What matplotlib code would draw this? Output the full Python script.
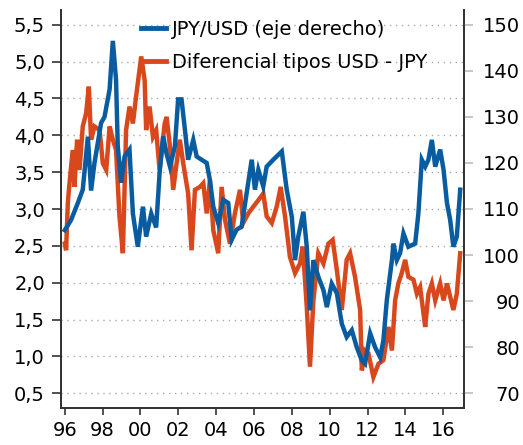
import numpy as np
import matplotlib
matplotlib.use("Agg")
import matplotlib.pyplot as plt
from matplotlib.lines import Line2D

# JPY/USD (right axis)
jpy_t = [1996.00, 1996.33, 1996.69, 1996.95, 1997.22, 1997.39, 1997.57, 1997.92,
         1998.10, 1998.37, 1998.54, 1998.71, 1998.80, 1998.98, 1999.16, 1999.42,
         1999.60, 1999.86, 2000.13, 2000.30, 2000.57, 2000.83, 2001.01, 2001.20,
         2001.38, 2001.56, 2001.82, 2001.99, 2002.17, 2002.35, 2002.52, 2002.79,
         2002.97, 2003.23, 2003.50, 2003.67, 2003.85, 2004.11, 2004.38, 2004.64,
         2004.82, 2005.08, 2005.35, 2005.61, 2005.88, 2006.05, 2006.23, 2006.49,
         2006.67, 2007.02, 2007.47, 2007.73, 2008.00, 2008.17, 2008.34, 2008.61,
         2008.79, 2008.96, 2009.14, 2009.40, 2009.67, 2009.85, 2010.11, 2010.38,
         2010.64, 2010.90, 2011.17, 2011.43, 2011.70, 2011.87, 2012.14, 2012.40,
         2012.67, 2012.84, 2013.02, 2013.29, 2013.37, 2013.55, 2013.72, 2013.90,
         2014.16, 2014.52, 2014.69, 2014.87, 2015.05, 2015.22, 2015.40, 2015.58,
         2015.84, 2016.02, 2016.20, 2016.37, 2016.54, 2016.72, 2016.90]
jpy_v = [105.4, 107.6, 111.3, 114.2, 125.7, 114.0, 120.0, 128.7,
         130.0, 136.0, 146.5, 138.0, 123.6, 115.7, 121.4, 122.9,
         109.0, 101.8, 110.5, 104.0, 109.0, 106.0, 117.8, 125.8,
         122.0, 119.2, 123.6, 133.8, 133.8, 127.2, 120.7, 125.0,
         121.4, 120.7, 120.0, 116.3, 110.5, 106.9, 112.0, 111.3,
         103.3, 105.5, 106.2, 113.4, 120.7, 114.2, 118.5, 114.9,
         119.2, 120.7, 122.5, 114.2, 108.3, 98.9, 104.0, 109.4,
         101.8, 88.0, 98.9, 95.3, 92.4, 88.7, 93.8, 91.7,
         85.1, 82.2, 83.7, 80.0, 77.1, 76.4, 83.0, 80.0,
         77.8, 81.5, 90.2, 98.9, 102.5, 98.9, 100.4, 104.7,
         101.8, 102.5, 109.1, 120.7, 119.2, 120.7, 125.0, 119.2,
         122.9, 118.5, 111.3, 107.6, 101.8, 104.0, 114.2]

# USD - JPY rate differential (left axis)
dif_t = [1996.00, 1996.07, 1996.16, 1996.25, 1996.42, 1996.51, 1996.65, 1996.78,
         1996.95, 1997.13, 1997.27, 1997.39, 1997.57, 1997.84, 1998.01, 1998.19,
         1998.37, 1998.54, 1998.71, 1998.89, 1999.07, 1999.24, 1999.42, 1999.60,
         1999.77, 2000.04, 2000.22, 2000.30, 2000.48, 2000.66, 2000.83, 2001.01,
         2001.28, 2001.38, 2001.56, 2001.73, 2001.91, 2002.08, 2002.26, 2002.52,
         2002.70, 2002.88, 2003.14, 2003.32, 2003.50, 2003.67, 2003.85, 2004.11,
         2004.29, 2004.47, 2004.73, 2004.99, 2005.26, 2005.43, 2005.70, 2005.96,
         2006.23, 2006.49, 2006.67, 2006.94, 2007.20, 2007.41, 2007.64, 2007.90,
         2008.17, 2008.43, 2008.58, 2008.79, 2008.96, 2009.14, 2009.40, 2009.67,
         2009.93, 2010.16, 2010.38, 2010.64, 2010.90, 2011.08, 2011.34, 2011.61,
         2011.70, 2011.87, 2012.05, 2012.31, 2012.58, 2012.84, 2013.11, 2013.29,
         2013.46, 2013.63, 2013.81, 2013.99, 2014.16, 2014.43, 2014.61, 2014.78,
         2014.96, 2015.05, 2015.22, 2015.40, 2015.58, 2015.84, 2016.02, 2016.20,
         2016.37, 2016.54, 2016.72, 2016.90]
dif_v = [2.53, 2.44, 3.08, 3.35, 3.80, 3.30, 3.94, 3.53,
         4.12, 4.30, 4.66, 3.94, 4.12, 4.07, 3.62, 3.53,
         4.12, 3.94, 3.80, 2.90, 2.40, 4.07, 4.39, 4.16,
         4.53, 5.07, 4.75, 4.07, 4.39, 3.98, 4.07, 3.53,
         4.16, 4.25, 3.85, 3.26, 3.62, 3.94, 3.62, 3.21,
         2.44, 3.26, 3.30, 3.35, 2.94, 3.39, 2.71, 2.40,
         3.30, 2.85, 2.53, 2.94, 3.26, 2.81, 2.94, 3.03,
         3.12, 3.21, 2.90, 2.81, 3.03, 3.30, 2.90, 2.35,
         2.13, 2.26, 2.49, 1.67, 0.86, 1.76, 2.40, 2.26,
         2.53, 2.58, 2.17, 1.63, 2.31, 2.40, 2.08, 1.63,
         0.81, 1.08, 1.04, 0.72, 0.90, 0.95, 1.40, 1.08,
         1.76, 1.99, 2.13, 2.31, 2.08, 2.04, 1.85, 1.94,
         1.58, 1.40, 1.85, 1.99, 1.76, 1.99, 1.76, 1.99,
         1.81, 1.63, 1.85, 2.40]

years = list(range(1996, 2017, 2))
year_labels = [str(y)[2:] for y in years]
left_ticks = [0.5, 1.0, 1.5, 2.0, 2.5, 3.0, 3.5, 4.0, 4.5, 5.0, 5.5]
right_ticks = [70, 80, 90, 100, 110, 120, 130, 140, 150]

blue = '#0a5ca0'
orange = '#d9481c'

plt.rcParams['font.family'] = ['DejaVu Sans']
plt.rcParams['font.size'] = 14

fig = plt.figure(figsize=(5.23, 4.45), dpi=100)
ax = fig.add_axes([61/523, 37/445, 403/523, 398/445])
ax2 = ax.twinx()

ax.plot(dif_t, dif_v, color=orange, lw=3.2, solid_joinstyle='miter')
ax2.plot(jpy_t, jpy_v, color=blue, lw=3.2, solid_joinstyle='miter')

ax.set_xlim(1995.8, 2017.1)
ax.set_ylim(0.3, 5.7)
ax2.set_ylim(66.8, 153.2)

ax.set_xticks(years)
ax.set_xticklabels(year_labels)
ax.set_yticks(left_ticks)
ax.set_yticklabels([('%.1f' % v).replace('.', ',') for v in left_ticks])
ax2.set_yticks(right_ticks)

for a in (ax, ax2):
    a.spines['top'].set_visible(False)
    for s in ('left', 'right', 'bottom'):
        a.spines[s].set_color('#333333')
        a.spines[s].set_linewidth(1.3)

ax.tick_params(axis='x', direction='out', length=5, width=1.2, color='#333333', pad=4)
ax.tick_params(axis='y', direction='out', length=6.5, width=1.2, color='#333333', pad=5)
ax2.tick_params(axis='y', direction='out', length=6.5, width=1.2, color='#bbbbbb', pad=34)
for lab in ax2.get_yticklabels():
    lab.set_horizontalalignment('right')

ax.grid(axis='y', color='#aaaaaa', lw=1.0, linestyle=(0, (1, 3.3)))
ax.set_axisbelow(True)

handles = [Line2D([], [], color=blue, lw=3.5), Line2D([], [], color=orange, lw=3.5)]
ax2.legend(handles, ['JPY/USD (eje derecho)', 'Diferencial tipos USD - JPY'],
           loc='upper left', bbox_to_anchor=(141/523, 1 - 20/445), bbox_transform=fig.transFigure,
           frameon=False, borderpad=0, borderaxespad=0, handlelength=1.3,
           handletextpad=0.3, labelspacing=0.72, fontsize=14)

fig.savefig('out.png', dpi=100)
